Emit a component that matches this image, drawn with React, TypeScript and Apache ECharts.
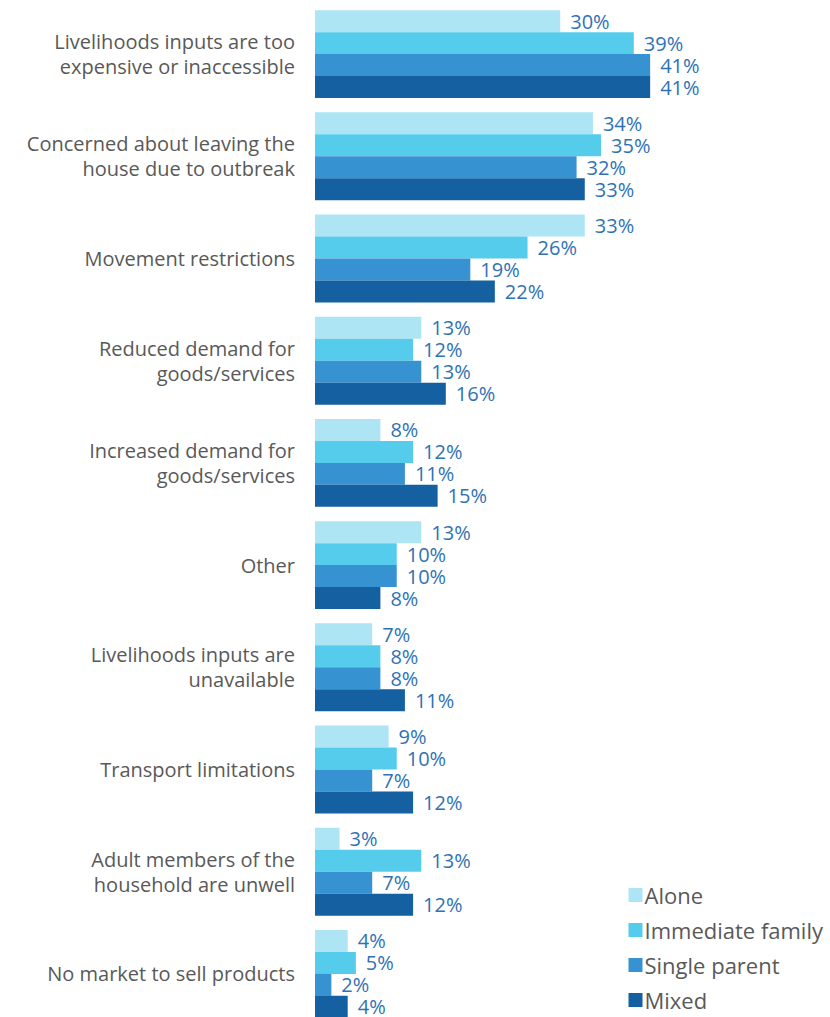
import React, { useEffect, useRef } from "react";
import * as echarts from "echarts";

const categories = [
  "Livelihoods inputs are too\nexpensive or inaccessible",
  "Concerned about leaving the\nhouse due to outbreak",
  "Movement restrictions",
  "Reduced demand for\ngoods/services",
  "Increased demand for\ngoods/services",
  "Other",
  "Livelihoods inputs are\nunavailable",
  "Transport limitations",
  "Adult members of the\nhousehold are unwell",
  "No market to sell products",
];

const seriesNames = ["Alone", "Immediate family", "Single parent", "Mixed"];
const alone = [30, 34, 33, 13, 8, 13, 7, 9, 3, 4];
const immediateFamily = [39, 35, 26, 12, 12, 10, 8, 10, 13, 5];
const singleParent = [41, 32, 19, 13, 11, 10, 8, 7, 7, 2];
const mixed = [41, 33, 22, 16, 15, 8, 11, 12, 12, 4];
const colors = ["#ADE5F5", "#56CCEC", "#3792D2", "#1460A0"];

export default function App() {
  const ref = useRef<HTMLDivElement>(null);
  useEffect(() => {
    if (!ref.current) return;
    const chart = echarts.init(ref.current, undefined, { renderer: "svg" });
    const values = [alone, immediateFamily, singleParent, mixed];
    const font = "'Open Sans', Lato, sans-serif";
    chart.setOption({
      animation: false,
      textStyle: { fontFamily: font },
      grid: {
        left: 315,
        right: 0,
        top: 3,
        height: 1022,
        containLabel: false,
        outerBoundsMode: "none",
      },
      xAxis: { type: "value", min: 0, max: 63, show: false },
      yAxis: {
        type: "category",
        data: categories,
        inverse: true,
        axisLine: { show: false },
        axisTick: { show: false },
        splitLine: { show: false },
        axisLabel: {
          color: "#595959",
          fontSize: 20,
          lineHeight: 25,
          margin: 20,
          align: "right",
          fontFamily: font,
        },
      },
      legend: {
        orient: "vertical",
        right: 2,
        bottom: 1,
        itemWidth: 14,
        itemHeight: 14,
        itemGap: 13,
        icon: "rect",
        data: seriesNames,
        textStyle: {
          color: "#595959",
          fontSize: 22,
          lineHeight: 22,
          fontFamily: font,
          padding: [0, 0, 0, -3],
        },
      },
      series: seriesNames.map((name, i) => ({
        name,
        type: "bar",
        data: values[i],
        barGap: "0%",
        barCategoryGap: "14%",
        itemStyle: { color: colors[i] },
        label: {
          show: true,
          position: "right",
          distance: 10,
          formatter: "{c}%",
          color: "#2F72B4",
          fontSize: 20,
          lineHeight: 20,
          fontFamily: font,
        },
      })),
    });
    return () => chart.dispose();
  }, []);
  return (
    <div
      ref={ref}
      style={{ position: "fixed", left: 0, top: 0, width: 830, height: 1017, background: "#fff" }}
    />
  );
}
